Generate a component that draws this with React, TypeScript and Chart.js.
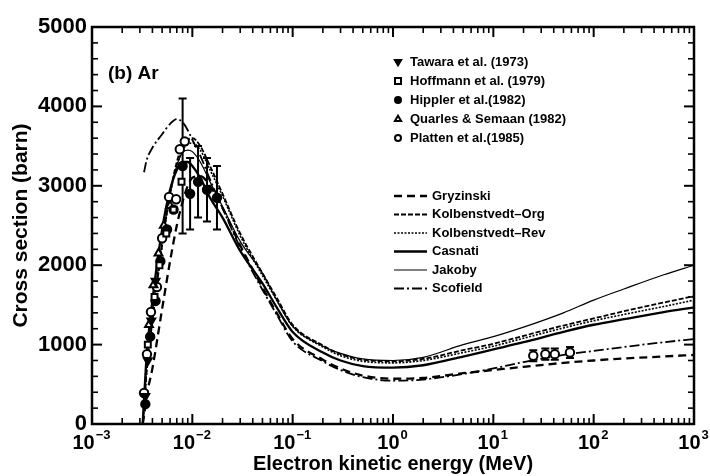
import React, { useEffect, useRef } from "react";
import { Chart, registerables } from "chart.js";

Chart.register(...registerables);

const FONT = "'Liberation Sans', Arimo, Arial, Helvetica, sans-serif";

// Energies (MeV) at which the theoretical curves are read
const curveEnergies = [
  0.0032, 0.0033, 0.0035, 0.004, 0.005, 0.006, 0.007, 0.008, 0.009, 0.01,
  0.012, 0.015, 0.02, 0.03, 0.05, 0.07, 0.1, 0.2, 0.3, 0.5,
  1, 2, 5, 10, 20, 50, 100, 200, 500, 1000,
];
const gryzinski = [
  0, 100, 350, 700, 1450, 2050, 2500, 2800, 3000, 3100,
  3120, 3000, 2720, 2250, 1720, 1390, 1070, 810, 700, 610,
  570, 580, 640, 680, 720, 770, 800, 825, 850, 870,
];
const kolbenstvedtOrg = [
  0, 200, 650, 1300, 2250, 2900, 3300, 3500, 3580, 3600,
  3500, 3250, 2900, 2400, 1900, 1580, 1250, 990, 880, 810,
  790, 820, 930, 1010, 1110, 1240, 1330, 1420, 1530, 1610,
];
const kolbenstvedtRev = [
  0, 200, 650, 1300, 2250, 2880, 3250, 3450, 3520, 3540,
  3450, 3200, 2870, 2370, 1870, 1550, 1230, 970, 860, 790,
  770, 800, 900, 980, 1080, 1210, 1300, 1380, 1480, 1560,
];
const casnati = [
  0, 300, 850, 1550, 2450, 2950, 3200, 3300, 3300, 3250,
  3100, 2850, 2600, 2180, 1770, 1460, 1160, 900, 800, 730,
  710, 740, 850, 940, 1030, 1160, 1250, 1320, 1410, 1470,
];
const jakoby = [
  0, 250, 750, 1400, 2300, 2900, 3250, 3420, 3450, 3430,
  3300, 3050, 2740, 2300, 1900, 1550, 1230, 980, 890, 820,
  800, 840, 1000, 1100, 1220, 1400, 1560, 1700, 1880, 2000,
];
const scofield = [
  null, 3170, 3320, 3480, 3650, 3780, 3840, 3800, 3700, 3580,
  3380, 3080, 2720, 2220, 1690, 1370, 1040, 790, 680, 590,
  545, 560, 630, 700, 780, 870, 920, 970, 1030, 1070,
];

// Experimental points
const tawaraE = [0.0034, 0.0036, 0.0039, 0.0043];
const tawaraCS = [350, 800, 1300, 1800];
const hoffmannE = [0.0036, 0.0042, 0.0047, 0.0055, 0.0065, 0.0078];
const hoffmannCS = [1000, 1600, 2000, 2400, 2700, 3050];
const hipplerE = [0.0034, 0.0038, 0.0043, 0.0048, 0.0056, 0.0065, 0.008, 0.0095, 0.0114, 0.014, 0.0176];
const hipplerCS = [250, 1100, 1550, 2050, 2450, 2700, 3250, 2900, 3050, 2950, 2850];
const hipplerErr = [0, 0, 0, 0, 0, 0, 850, 450, 450, 400, 400];
const quarlesE = [0.0037, 0.0041, 0.0046, 0.0052, 0.006];
const quarlesCS = [1250, 1750, 2150, 2500, 2750];
const plattenE = [0.0033, 0.00353, 0.00387, 0.00444, 0.005, 0.00586, 0.0069, 0.0075, 0.0084, 25, 33, 41, 58];
const plattenCS = [390, 880, 1410, 1725, 2340, 2860, 2830, 3460, 3560, 860, 880, 880, 900];
const plattenErr = [0, 0, 0, 0, 0, 0, 0, 0, 0, 70, 70, 70, 70];

// Axis ticks
const xDecades = [1e-3, 1e-2, 1e-1, 1e0, 1e1, 1e2, 1e3];
const xExponents = ["-3", "-2", "-1", "0", "1", "2", "3"];
const yMajor = [0, 1000, 2000, 3000, 4000, 5000];
const yMinorStep = 200;

const pts = (xs: number[], ys: (number | null)[]) =>
  xs.map((x, i) => ({ x, y: ys[i] })).filter((p) => p.y !== null);

const errorSets = [
  { xs: hipplerE, ys: hipplerCS, err: hipplerErr },
  { xs: plattenE, ys: plattenCS, err: plattenErr },
];

const errorBarPlugin = {
  id: "errorBars",
  beforeDatasetsDraw(chart: any) {
    const { ctx, scales } = chart;
    const xs = scales.x, ys = scales.y;
    ctx.save();
    ctx.strokeStyle = "#000";
    ctx.lineWidth = 2;
    for (const s of errorSets) {
      s.xs.forEach((e, i) => {
        const er = s.err[i];
        if (!er) return;
        const px = xs.getPixelForValue(e);
        const lo = ys.getPixelForValue(s.ys[i] - er);
        const hi = ys.getPixelForValue(s.ys[i] + er);
        ctx.beginPath();
        ctx.moveTo(px, lo); ctx.lineTo(px, hi);
        ctx.moveTo(px - 4, lo); ctx.lineTo(px + 4, lo);
        ctx.moveTo(px - 4, hi); ctx.lineTo(px + 4, hi);
        ctx.stroke();
      });
    }
    ctx.restore();
  },
};

function drawMarker(ctx: CanvasRenderingContext2D, style: string, x: number, y: number, r: number, fill: string, rot: number) {
  ctx.beginPath();
  if (style === "circle") {
    ctx.arc(x, y, r, 0, Math.PI * 2);
  } else if (style === "rect") {
    ctx.rect(x - r, y - r, 2 * r, 2 * r);
  } else if (style === "triangle") {
    const s = rot ? -1 : 1;
    ctx.moveTo(x, y - s * r * 1.1);
    ctx.lineTo(x - r * 1.05, y + s * r * 0.7);
    ctx.lineTo(x + r * 1.05, y + s * r * 0.7);
    ctx.closePath();
  }
  ctx.fillStyle = fill;
  ctx.fill();
  ctx.lineWidth = 2;
  ctx.strokeStyle = "#000";
  ctx.stroke();
}

const framePlugin = {
  id: "frameTicks",
  afterDraw(chart: any) {
    const { ctx, chartArea, scales, data } = chart;
    const { left, right, top, bottom } = chartArea;
    const xs = scales.x, ys = scales.y;
    ctx.save();
    ctx.strokeStyle = "#000";
    ctx.lineCap = "butt";
    ctx.lineWidth = 2.5;
    ctx.strokeRect(left, top, right - left, bottom - top);
    const seg = (x1: number, y1: number, x2: number, y2: number) => {
      ctx.beginPath(); ctx.moveTo(x1, y1); ctx.lineTo(x2, y2); ctx.stroke();
    };
    // x ticks (inward, top & bottom)
    xDecades.forEach((d, i) => {
      const px = xs.getPixelForValue(d);
      ctx.lineWidth = 2;
      seg(px, bottom, px, bottom - 10);
      seg(px, top, px, top + 10);
      if (i < xDecades.length - 1) {
        ctx.lineWidth = 1.6;
        for (let m = 2; m <= 9; m++) {
          const mx = xs.getPixelForValue(d * m);
          seg(mx, bottom, mx, bottom - 6);
          seg(mx, top, mx, top + 6);
        }
      }
    });
    // y ticks (inward, left & right)
    for (let v = 0; v <= 5000; v += yMinorStep) {
      const py = ys.getPixelForValue(v);
      const major = v % 1000 === 0;
      const len = major ? 10 : 6;
      ctx.lineWidth = major ? 2 : 1.6;
      seg(left, py, left + len, py);
      seg(right, py, right - len, py);
    }
    // x tick labels with superscript exponents
    ctx.fillStyle = "#000";
    ctx.textBaseline = "alphabetic";
    xDecades.forEach((d, i) => {
      const px = xs.getPixelForValue(d);
      const ex = xExponents[i].replace("-", "\u2212");
      ctx.font = `bold 20px ${FONT}`;
      const w1 = ctx.measureText("10").width;
      ctx.font = `bold 13px ${FONT}`;
      const w2 = ctx.measureText(ex).width;
      const start = px - (w1 + w2) / 2 - 1;
      ctx.font = `bold 20px ${FONT}`;
      ctx.textAlign = "left";
      ctx.fillText("10", start, bottom + 25);
      ctx.font = `bold 13px ${FONT}`;
      ctx.fillText(ex, start + w1 + 1, bottom + 15);
    });
    // panel label
    ctx.font = `bold 19px ${FONT}`;
    ctx.textAlign = "left";
    ctx.fillText("(b) Ar", left + 16, top + 52);
    // legend: experimental markers
    ctx.font = `bold 13px ${FONT}`;
    ctx.textBaseline = "middle";
    for (let row = 0; row < 5; row++) {
      const ds = data.datasets[6 + row];
      const y = top + 35 + row * 19;
      drawMarker(ctx, ds.pointStyle, left + 306, y, 3, ds.pointBackgroundColor, ds.pointRotation || 0);
      ctx.fillStyle = "#000";
      ctx.fillText(ds.label, left + 318, y);
    }
    // legend: theory curves
    for (let k = 0; k < 6; k++) {
      const ds = data.datasets[k];
      const y = top + 169 + k * 18.5;
      ctx.save();
      ctx.setLineDash(ds.borderDash || []);
      ctx.lineWidth = ds.borderWidth;
      seg(left + 302, y, left + 335, y);
      ctx.restore();
      ctx.fillStyle = "#000";
      ctx.fillText(ds.label, left + 340, y);
    }
    ctx.restore();
  },
};

export default function App() {
  const ref = useRef<HTMLCanvasElement>(null);
  useEffect(() => {
    if (!ref.current) return;
    const line = (label: string, ys: (number | null)[], width: number, dash: number[]) => ({
      type: "line" as const,
      label,
      data: pts(curveEnergies, ys),
      borderColor: "#000",
      borderWidth: width,
      borderDash: dash,
      pointRadius: 0,
      fill: false,
      cubicInterpolationMode: "monotone" as const,
      order: 2,
    });
    const scatter = (label: string, xs: number[], ys: number[], style: string, fill: string, rot = 0) => ({
      type: "scatter" as const,
      label,
      data: pts(xs, ys),
      pointStyle: style,
      pointRotation: rot,
      pointRadius: style === "triangle" ? 4.5 : 4.2,
      pointBackgroundColor: fill,
      pointBorderColor: "#000",
      pointBorderWidth: 2,
      showLine: false,
      order: 1,
    });
    const chart = new Chart(ref.current, {
      type: "line",
      data: {
        datasets: [
          line("Gryzinski", gryzinski, 2.3, [8, 5]),
          line("Kolbenstvedt\u2013Org", kolbenstvedtOrg, 1.8, [5, 2]),
          line("Kolbenstvedt\u2013Rev", kolbenstvedtRev, 1.6, [2, 1.5]),
          line("Casnati", casnati, 2.3, []),
          line("Jakoby", jakoby, 1.2, []),
          line("Scofield", scofield, 1.8, [10, 3, 2, 3]),
          scatter("Tawara et al. (1973)", tawaraE, tawaraCS, "triangle", "#000", 180),
          scatter("Hoffmann et al. (1979)", hoffmannE, hoffmannCS, "rect", "#fff"),
          scatter("Hippler et al.(1982)", hipplerE, hipplerCS, "circle", "#000"),
          scatter("Quarles & Semaan (1982)", quarlesE, quarlesCS, "triangle", "#fff"),
          scatter("Platten et al.(1985)", plattenE, plattenCS, "circle", "#fff"),
        ] as any,
      },
      options: {
        responsive: false,
        animation: false,
        devicePixelRatio: 1,
        layout: { padding: { top: 27, right: 16, left: 0, bottom: 0 } },
        plugins: { legend: { display: false }, tooltip: { enabled: false } },
        scales: {
          x: {
            type: "logarithmic",
            min: 1e-3,
            max: 1e3,
            grid: { display: false, drawTicks: false },
            border: { display: false },
            ticks: { display: false },
            afterFit: (s: any) => { s.height = 52; },
            title: {
              display: true,
              text: "Electron kinetic energy (MeV)",
              color: "#000",
              font: { family: FONT, size: 20, weight: "bold" },
              padding: { top: 0, bottom: 0 },
            },
          },
          y: {
            type: "linear",
            min: 0,
            max: 5000,
            grid: { display: false, drawTicks: false },
            border: { display: false },
            afterBuildTicks: (s: any) => { s.ticks = yMajor.map((v) => ({ value: v })); },
            afterFit: (s: any) => { s.width = 92; },
            ticks: {
              color: "#000",
              padding: 5,
              font: { family: FONT, size: 22, weight: "bold" },
              callback: (v: any) => String(v),
            },
            title: {
              display: true,
              text: "Cross section (barn)",
              color: "#000",
              font: { family: FONT, size: 21, weight: "bold" },
              padding: { top: 9, bottom: 0 },
            },
          },
        },
      } as any,
      plugins: [errorBarPlugin, framePlugin],
    });
    return () => chart.destroy();
  }, []);
  return (
    <div style={{ position: "fixed", left: 0, top: 0, width: 710, height: 476, background: "#fff" }}>
      <canvas ref={ref} width={710} height={476} style={{ display: "block" }} />
    </div>
  );
}
